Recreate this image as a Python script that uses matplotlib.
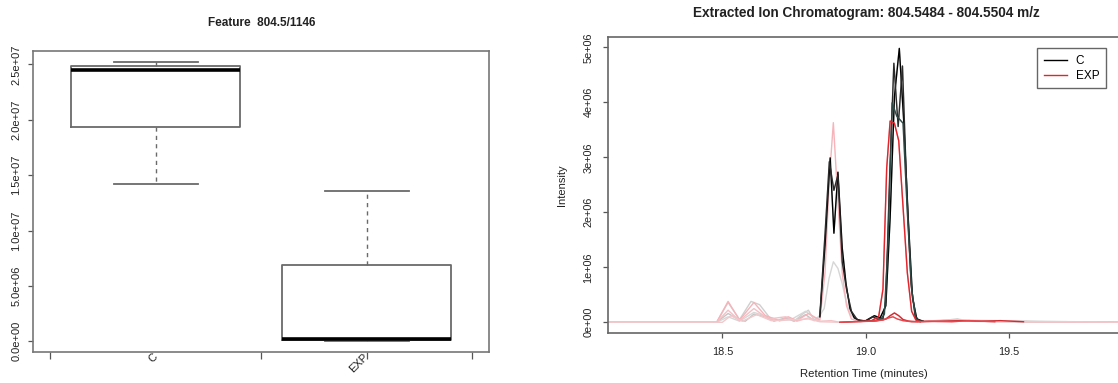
import numpy as np
import matplotlib
matplotlib.use('Agg')
import matplotlib.pyplot as plt
from matplotlib.lines import Line2D

plt.rcParams['font.family'] = ['Liberation Sans', 'DejaVu Sans']

# Feature intensity per group, R boxplot statistics (whisker low, hinges, median, whisker high)
groups = ['C', 'EXP']
box_whislo = [1.420e7, 0.03e6]
box_q1 = [1.937e7, 0.10e6]
box_med = [2.451e7, 0.22e6]
box_q3 = [2.487e7, 6.89e6]
box_whishi = [2.523e7, 1.357e7]
box_ticks = [0.5, 1.5, 2.0, 2.5]

# Extracted ion chromatograms, intensity in 1e6 counts
rt_ca = [18.10, 18.48, 18.52, 18.56, 18.58, 18.61, 18.65, 18.68, 18.72, 18.75,
         18.79, 18.82, 18.84, 18.858, 18.876, 18.889, 18.903, 18.918, 18.931, 18.945,
         18.96, 18.98, 19.00, 19.03, 19.05, 19.07, 19.085, 19.10, 19.117, 19.132,
         19.148, 19.163, 19.178, 19.20, 19.26, 19.32, 19.35, 19.45, 19.88]
int_ca = [0, 0, 0.16, 0.04, 0.02, 0.15, 0.10, 0.02, 0.08, 0.02,
          0.14, 0.03, 0.10, 1.40, 2.99, 1.62, 2.73, 1.35, 0.71, 0.25,
          0.08, 0.03, 0.03, 0.12, 0.08, 0.30, 1.90, 4.10, 4.98, 3.70,
          1.90, 0.45, 0.06, 0.02, 0.03, 0.06, 0.02, 0.01, 0]

rt_cb = [18.10, 18.48, 18.52, 18.56, 18.60, 18.63, 18.67, 18.70, 18.725, 18.75,
         18.78, 18.80, 18.82, 18.84, 18.858, 18.873, 18.889, 18.903, 18.918, 18.933,
         18.95, 18.97, 19.00, 19.025, 19.04, 19.06, 19.07, 19.083, 19.098, 19.113,
         19.128, 19.143, 19.158, 19.172, 19.185, 19.20, 19.28, 19.33, 19.40, 19.88]
int_cb = [0, 0, 0.36, 0.05, 0.38, 0.32, 0.05, 0.03, 0.09, 0.02,
          0.15, 0.22, 0.04, 0.12, 1.60, 2.92, 2.40, 2.68, 1.10, 0.60,
          0.20, 0.05, 0.02, 0.10, 0.06, 0.06, 0.40, 2.60, 4.71, 3.56,
          4.66, 2.40, 0.70, 0.12, 0.03, 0.02, 0.04, 0.05, 0.02, 0]

rt_cc = [18.10, 18.48, 18.52, 18.56, 18.61, 18.66, 18.70, 18.74, 18.79, 18.83,
         18.855, 18.872, 18.887, 18.903, 18.918, 18.933, 18.95, 18.97, 19.00, 19.03,
         19.05, 19.065, 19.078, 19.092, 19.108, 19.13, 19.145, 19.16, 19.175, 19.19,
         19.25, 19.32, 19.88]
int_cc = [0, 0, 0.10, 0.02, 0.18, 0.10, 0.03, 0.05, 0.20, 0.05,
          0.25, 0.80, 1.10, 0.98, 0.70, 0.35, 0.12, 0.04, 0.02, 0.03,
          0.04, 0.15, 1.50, 3.99, 3.75, 3.62, 2.00, 0.60, 0.06, 0.02,
          0.03, 0.04, 0]

rt_ea = [18.10, 18.48, 18.52, 18.56, 18.61, 18.65, 18.70, 18.73, 18.76, 18.80,
         18.84, 18.858, 18.873, 18.887, 18.903, 18.918, 18.933, 18.95, 18.98, 19.02,
         19.045, 19.06, 19.073, 19.085, 19.10, 19.115, 19.13, 19.145, 19.16, 19.175,
         19.19, 19.25, 19.35, 19.48, 19.60, 19.88]
int_ea = [0, 0, 0.38, 0.04, 0.36, 0.12, 0.03, 0.10, 0.03, 0.16,
          0.04, 0.90, 2.60, 3.63, 2.20, 0.90, 0.30, 0.06, 0.01, 0.03,
          0.10, 0.60, 2.80, 3.66, 3.62, 3.30, 2.10, 0.90, 0.20, 0.04,
          0.01, 0.01, 0.03, 0.02, 0.01, 0]

rt_eb = [18.10, 18.48, 18.52, 18.56, 18.61, 18.66, 18.72, 18.76, 18.80, 18.84,
         18.88, 18.91, 18.95, 19.00, 19.04, 19.07, 19.085, 19.10, 19.115, 19.13,
         19.15, 19.18, 19.25, 19.33, 19.40, 19.47, 19.55, 19.88]
int_eb = [0, 0, 0.22, 0.03, 0.25, 0.06, 0.10, 0.02, 0.08, 0.02,
          0.03, 0.0, 0.01, 0.02, 0.03, 0.06, 0.12, 0.17, 0.12, 0.05,
          0.02, 0.01, 0.02, 0.03, 0.02, 0.03, 0.01, 0]

rt_ec = [18.10, 18.50, 18.53, 18.57, 18.62, 18.67, 18.80, 18.84, 18.91, 18.96,
         19.02, 19.06, 19.08, 19.095, 19.11, 19.13, 19.16, 19.22, 19.30, 19.36,
         19.45, 19.70, 19.88]
int_ec = [0, 0, 0.12, 0.02, 0.14, 0.03, 0.06, 0.01, 0.0, 0.01,
          0.02, 0.04, 0.08, 0.10, 0.06, 0.03, 0.01, 0.02, 0.01, 0.03,
          0.01, 0.01, 0]

# peak integration windows (min) for each sample
win_c = [(18.83, 19.20), (18.83, 19.20), (19.00, 19.20)]
win_exp = [(19.00, 19.20), (18.91, 19.55), (18.91, 19.45)]

samples = [
    (rt_ca, int_ca, win_c[0], '#000000', '#c4c4c4'),
    (rt_cb, int_cb, win_c[1], '#2b2b2b', '#cfcfcf'),
    (rt_cc, int_cc, win_c[2], '#2f4a45', '#d6d6d6'),
    (rt_ea, int_ea, win_exp[0], '#e3242b', '#f6b3b9'),
    (rt_eb, int_eb, win_exp[1], '#d22a30', '#f3c1c5'),
    (rt_ec, int_ec, win_exp[2], '#e8474d', '#f1c9cc'),
]

W, H = 1118, 383
fig = plt.figure(figsize=(W / 100, H / 100), dpi=100)
axis_col = '#555555'
text_col = '#222222'

# ---- left: boxplot of the feature ----
ax1 = fig.add_axes([33.3 / W, 1 - 352.3 / H, (488.6 - 33.3) / W, (352.3 - 50.7) / H])
stats = []
for i, g in enumerate(groups):
    stats.append(dict(label=g, whislo=box_whislo[i], q1=box_q1[i], med=box_med[i],
                      q3=box_q3[i], whishi=box_whishi[i], fliers=[]))
ax1.bxp(stats, positions=[1, 2], widths=0.8, showfliers=False,
        boxprops=dict(color='#6a6a6a', lw=1.3),
        medianprops=dict(color='black', lw=2.6),
        whiskerprops=dict(color='#6a6a6a', lw=1.0, linestyle=(0, (3, 3))),
        capprops=dict(color='#6a6a6a', lw=1.3))
ax1.set_xlim(0.419, 2.578)
ax1.set_ylim(-0.0993e7, 2.623e7)
ax1.set_xticks(box_ticks)
ax1.set_xticklabels([])
ax1.set_yticks(np.arange(0, 2.6e7, 5e6))
ax1.set_yticklabels(['%.1e' % v for v in np.arange(0, 2.6e7, 5e6)])
ax1.tick_params(axis='y', labelrotation=90, length=3.6, width=0.9, color=axis_col,
                labelsize=8, labelcolor=text_col, pad=5)
ax1.tick_params(axis='x', length=5, width=0.9, color=axis_col)
for lab in ax1.get_yticklabels():
    lab.set_va('center')
for s in ax1.spines.values():
    s.set_color('#777777')
    s.set_linewidth(1.2)
for i, g in enumerate(groups):
    ax1.text(i + 1, -0.01, g, transform=ax1.get_xaxis_transform(), rotation=45,
             rotation_mode='anchor', ha='right', va='center', fontsize=8, color=text_col)
fig.text(261.5 / W, 1 - 23.3 / H, 'Feature  804.5/1146', ha='center', va='center',
         fontsize=8.5, fontweight='bold', color=text_col)

# ---- right: extracted ion chromatogram ----
ax2 = fig.add_axes([608.2 / W, 1 - 333.3 / H, (1119 - 608.2) / W, (333.3 - 36.7) / H])
# whole traces first in faded colour, then the peak window in full colour
for rt, inten, win, dark, light in samples:
    ax2.plot(rt, np.array(inten) * 1e6, color=light, lw=1.0)
for rt, inten, win, dark, light in samples:
    rt = np.array(rt)
    inten = np.array(inten) * 1e6
    m = (rt >= win[0]) & (rt <= win[1])
    ax2.plot(rt[m], inten[m], color=dark, lw=1.0)

ax2.set_xlim(18.102, 19.883)
ax2.set_ylim(-0.2e6, 5.193e6)
ax2.set_xticks([18.5, 19.0, 19.5])
ax2.set_xticklabels(['18.5', '19.0', '19.5'])
yt = np.arange(0, 5.1e6, 1e6)
ax2.set_yticks(yt)
ax2.set_yticklabels(['%.0e' % v for v in yt])
ax2.tick_params(axis='y', labelrotation=90, length=3.6, width=0.9, color=axis_col,
                labelsize=7.8, labelcolor=text_col, pad=7)
ax2.tick_params(axis='x', length=3.6, width=0.9, color=axis_col,
                labelsize=7.8, labelcolor=text_col, pad=6)
for lab in ax2.get_yticklabels():
    lab.set_va('center')
for s in ax2.spines.values():
    s.set_color('#666666')
    s.set_linewidth(1.2)
ax2.set_ylabel('Intensity', fontsize=8, color=text_col, labelpad=12)
ax2.set_xlabel('Retention Time (minutes)', fontsize=8.2, color=text_col, labelpad=9)
fig.text(866 / W, 1 - 13 / H, 'Extracted Ion Chromatogram: 804.5484 - 804.5504 m/z',
         ha='center', va='center', fontsize=9.8, fontweight='bold', color=text_col)

handles = [Line2D([], [], color='#000000', lw=1.0), Line2D([], [], color='#e3242b', lw=1.0)]
leg = ax2.legend(handles, groups, loc='upper right', bbox_to_anchor=(0.974, 0.961),
                 borderaxespad=0, fancybox=False, framealpha=1, edgecolor='#666666',
                 fontsize=8.5, handlelength=2.0, handletextpad=0.7, labelspacing=0.25,
                 borderpad=0.55)
leg.get_frame().set_linewidth(1.0)

fig.savefig('out.png', dpi=100)
